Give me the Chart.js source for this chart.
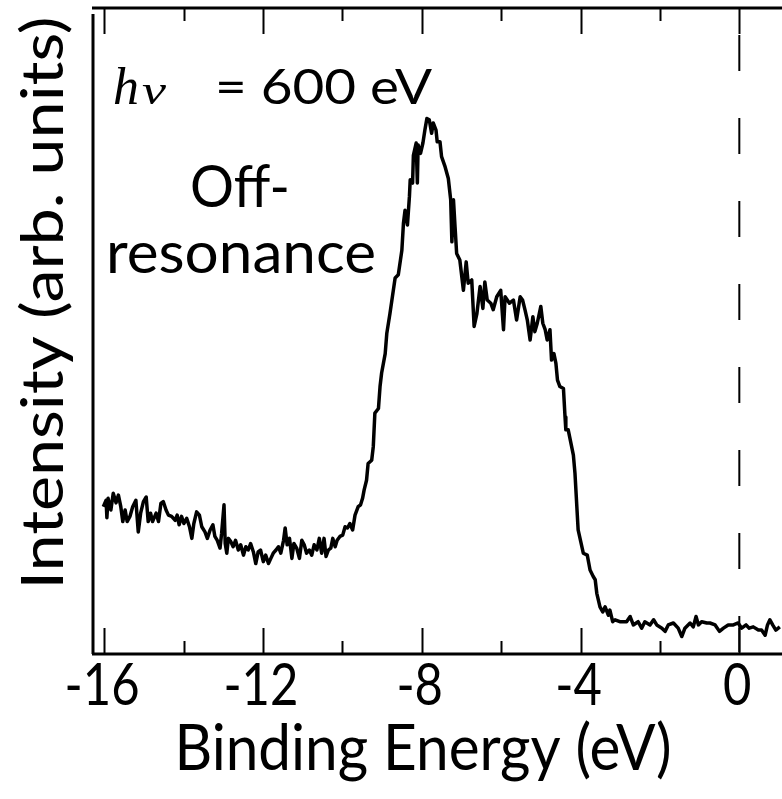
<!DOCTYPE html>
<html>
<head>
<meta charset="utf-8">
<script src="https://cdn.jsdelivr.net/npm/chart.js@4.4.1/dist/chart.umd.min.js"></script>
<style>
  html, body { margin: 0; padding: 0; background: #fff; }
  #caixa { width: 782px; height: 799px; }
</style>
</head>
<body>
<div id="caixa"><canvas id="espectro" width="782" height="799"></canvas></div>
<script>
// binding energy (eV) and intensity (arb. units) of the off-resonance spectrum
var energia = [
  -16.02,-15.95,-15.93,-15.90,-15.83,-15.77,-15.70,-15.64,-15.58,-15.53,-15.47,-15.42,-15.35,-15.28,-15.20,
  -15.14,-15.08,-15.01,-14.94,-14.89,-14.83,-14.78,-14.69,-14.63,-14.57,-14.51,-14.44,-14.38,-14.30,-14.21,
  -14.16,-14.11,-14.05,-13.99,-13.92,-13.85,-13.79,-13.74,-13.67,-13.60,-13.54,-13.46,-13.40,-13.33,-13.26,
  -13.21,-13.15,-13.08,-13.04,-12.98,-12.95,-12.91,-12.87,-12.81,-12.75,-12.69,-12.62,-12.56,-12.49,-12.43,
  -12.37,-12.31,-12.24,-12.18,-12.12,-12.06,-11.99,-11.93,-11.86,-11.80,-11.74,-11.67,-11.61,-11.55,-11.48,
  -11.44,-11.39,-11.33,-11.27,-11.22,-11.15,-11.08,-11.02,-10.96,-10.90,-10.83,-10.77,-10.71,-10.64,-10.58,
  -10.52,-10.46,-10.41,-10.35,-10.29,-10.24,-10.18,-10.13,-10.06,-9.99,-9.93,-9.87,-9.81,-9.74,-9.68,
  -9.60,-9.54,-9.49,-9.45,-9.39,-9.35,-9.26,-9.22,-9.18,-9.09,-9.05,-9.01,-8.92,-8.88,-8.80,
  -8.67,-8.59,-8.50,-8.46,-8.42,-8.36,-8.31,-8.29,-8.23,-8.21,-8.14,-8.11,-8.09,-8.03,-7.97,
  -7.92,-7.87,-7.81,-7.75,-7.71,-7.64,-7.61,-7.54,-7.50,-7.41,-7.33,-7.27,-7.24,-7.20,-7.16,
  -7.12,-7.04,-6.95,-6.88,-6.83,-6.74,-6.68,-6.61,-6.53,-6.46,-6.41,-6.35,-6.26,-6.20,-6.11,
  -6.01,-5.94,-5.90,-5.79,-5.69,-5.61,-5.52,-5.46,-5.40,-5.34,-5.27,-5.20,-5.15,-5.09,-5.00,
  -4.95,-4.89,-4.84,-4.77,-4.73,-4.67,-4.62,-4.58,-4.52,-4.43,-4.39,-4.37,-4.31,-4.18,-4.14,
  -4.06,-3.93,-3.83,-3.76,-3.68,-3.63,-3.59,-3.51,-3.44,-3.38,-3.30,-3.26,-3.19,-3.13,-3.01,
  -2.84,-2.75,-2.67,-2.55,-2.46,-2.38,-2.25,-2.16,-2.08,-1.95,-1.87,-1.79,-1.66,-1.54,-1.45,
  -1.37,-1.24,-1.16,-1.09,-1.03,-0.95,-0.82,-0.74,-0.61,-0.50,-0.40,-0.28,-0.15,-0.03,0.06,
  0.17,0.25,0.35,0.48,0.56,0.65,0.71,0.77,0.84,0.92,1.02
];
var intensidade = [
  22.8,23.8,21.1,24.1,22.3,24.9,23.4,24.6,22.8,20.5,22.3,20.5,21.3,22.8,23.8,
  18.9,21.8,23.6,24.3,20.5,21.8,20.5,21.8,20.5,23.3,23.6,22.3,21.5,21.3,20.7,
  21.5,20.0,21.3,20.2,21.0,19.7,17.9,20.2,22.0,21.5,19.7,18.9,17.9,19.2,20.0,
  18.2,17.6,16.4,18.7,23.1,17.1,15.6,17.9,17.4,16.6,17.6,16.1,16.9,15.3,16.6,
  16.1,17.1,15.8,14.0,15.8,16.1,14.3,15.3,14.0,14.8,15.6,16.1,16.6,15.6,17.6,
  19.5,16.9,17.9,14.8,17.1,16.4,14.8,17.6,16.9,15.6,16.1,15.3,16.9,16.1,17.9,
  15.6,17.9,15.1,16.1,16.4,17.9,16.6,17.6,18.2,18.4,19.7,19.5,20.2,19.2,21.5,
  22.8,23.1,24.1,25.4,26.9,29.5,30.0,32.1,37.3,38.0,41.4,43.5,46.5,49.6,52.7,
  58.2,58.7,62.5,66.7,68.7,66.4,70.8,73.4,72.9,77.2,79.1,72.9,78.8,77.5,79.1,
  81.1,82.9,82.7,80.6,82.2,81.1,79.3,79.3,77.0,75.4,73.6,70.3,63.8,70.3,66.1,
  62.0,61.0,56.3,60.7,57.4,57.9,50.7,52.7,56.9,53.5,57.6,54.8,54.3,53.3,55.3,
  56.3,50.2,55.3,54.3,54.8,51.7,55.3,54.8,53.3,51.7,48.6,52.2,49.9,51.2,53.8,
  51.2,50.2,48.6,50.2,45.5,46.5,45.0,42.4,41.4,41.1,36.7,34.7,34.7,30.8,28.0,
  19.2,15.6,15.3,13.0,12.0,11.5,9.4,7.3,6.5,7.3,6.0,6.8,5.0,5.3,5.0,
  5.0,5.8,4.5,5.0,4.0,5.0,4.5,5.3,4.5,4.0,3.5,4.5,4.8,4.0,2.7,
  4.0,4.8,4.2,5.8,4.5,5.0,4.8,4.8,4.5,3.5,4.0,4.5,4.5,4.8,4.0,
  4.5,4.0,4.2,3.7,3.7,2.9,4.5,5.3,4.5,3.7,4.2
];
// axis range and ticks
var eixoXMin = -16.28;
var eixoXMax = 1.075;
var eixoYMin = 0;
var eixoYMax = 100;
var ticksMaiores = [-16, -12, -8, -4, 0];
var ticksMenores = [-14, -10, -6, -2];
var rotulosTicks = ['-16', '-12', '-8', '-4', '0'];
// Fermi level marker
var fermiX = [0, 0];
var fermiY = [100, 0];
// texts
var tituloX = 'Binding Energy (eV)';
var tituloY = 'Intensity (arb. units)';
var fotonH = 'h';
var fotonNu = '\u03BD';
var fotonValor = '= 600 eV';
var legenda1 = 'Off-';
var legenda2 = 'resonance';

var FONTE = 'Lato, "Open Sans", sans-serif';
var FONTE_ITALICO = '"Liberation Serif", "DejaVu Serif", serif';

var pontos = energia.map(function (e, i) { return { x: e, y: intensidade[i] }; });
var pontosFermi = fermiX.map(function (e, i) { return { x: e, y: fermiY[i] }; });

// writes text with a given cap height, stretched along its baseline to a given width
function textoAjustado(ctx, txt, x, y, largura, altCap, estilo, alinhar, angulo, familia) {
  var tam = altCap / 0.7165;
  ctx.save();
  ctx.font = (estilo || '') + ' ' + tam + 'px ' + (familia || FONTE);
  var w = ctx.measureText(txt).width;
  ctx.translate(x, y);
  if (angulo) ctx.rotate(angulo);
  ctx.scale(largura / w, 1);
  ctx.fillStyle = '#000';
  ctx.textAlign = alinhar || 'center';
  ctx.textBaseline = 'alphabetic';
  ctx.fillText(txt, 0, 0);
  ctx.restore();
}

var eixos = {
  id: 'eixos',
  beforeDatasetsDraw: function (chart) {
    var ctx = chart.ctx;
    var a = chart.chartArea;
    var sx = chart.scales.x;
    ctx.save();
    ctx.strokeStyle = '#000';
    ctx.lineCap = 'butt';
    ctx.lineWidth = 3;
    ctx.beginPath();
    ctx.moveTo(a.left - 1, a.top); ctx.lineTo(a.right, a.top);
    ctx.moveTo(a.left - 1, a.bottom); ctx.lineTo(a.right, a.bottom);
    ctx.moveTo(a.left, a.top + 6); ctx.lineTo(a.left, a.bottom);
    ctx.stroke();
    ctx.lineWidth = 2;
    ctx.beginPath();
    ticksMaiores.forEach(function (v) {
      var p = Math.round(sx.getPixelForValue(v)) + 0.5;
      ctx.moveTo(p, a.bottom); ctx.lineTo(p, a.bottom - 26);
      ctx.moveTo(p, a.top); ctx.lineTo(p, a.top + 26);
    });
    ticksMenores.forEach(function (v) {
      var p = Math.round(sx.getPixelForValue(v)) + 0.5;
      ctx.moveTo(p, a.bottom); ctx.lineTo(p, a.bottom - 13);
      ctx.moveTo(p, a.top); ctx.lineTo(p, a.top + 13);
    });
    ctx.stroke();
    ctx.restore();
  },
  afterDraw: function (chart) {
    var ctx = chart.ctx;
    var sx = chart.scales.x;
    // tick labels share one horizontal squeeze
    ctx.save();
    ctx.font = (41 / 0.7165) + 'px ' + FONTE;
    var fator = 75 / ctx.measureText('-16').width;
    var larguras = rotulosTicks.map(function (t) { return ctx.measureText(t).width * fator; });
    ctx.restore();
    ticksMaiores.forEach(function (v, i) {
      textoAjustado(ctx, rotulosTicks[i], sx.getPixelForValue(v) - 2, 705, larguras[i], 41, '', 'center');
    });
    textoAjustado(ctx, tituloX, 423, 770, 497, 46, '', 'center');
    textoAjustado(ctx, tituloY, 63, 303, 573, 41, '', 'center', -Math.PI / 2);
    textoAjustado(ctx, fotonH, 113, 104, 26, 38, 'italic', 'left', 0, FONTE_ITALICO);
    textoAjustado(ctx, fotonNu, 142, 104, 24, 30, 'italic', 'left', 0, FONTE_ITALICO);
    textoAjustado(ctx, fotonValor, 215, 104, 217, 35, '', 'left');
    textoAjustado(ctx, legenda1, 190, 207, 100, 41, '', 'left');
    textoAjustado(ctx, legenda2, 106, 273, 270, 42, '', 'left');
  }
};

var grafico = new Chart(document.getElementById('espectro'), {
  type: 'scatter',
  data: {
    datasets: [{
      data: pontos,
      showLine: true,
      borderColor: '#000',
      borderWidth: 3.5,
      borderJoinStyle: 'round',
      pointRadius: 0,
      tension: 0
    }, {
      data: pontosFermi,
      showLine: true,
      borderColor: '#000',
      borderWidth: 2,
      borderDash: [36, 47],
      borderDashOffset: 56,
      pointRadius: 0
    }]
  },
  options: {
    responsive: false,
    animation: false,
    layout: { padding: { left: 93, right: 0, top: 8, bottom: 145 } },
    plugins: { legend: { display: false }, tooltip: { enabled: false } },
    scales: {
      x: { type: 'linear', min: eixoXMin, max: eixoXMax, display: false },
      y: { type: 'linear', min: eixoYMin, max: eixoYMax, display: false }
    }
  },
  plugins: [eixos]
});
</script>
</body>
</html>
